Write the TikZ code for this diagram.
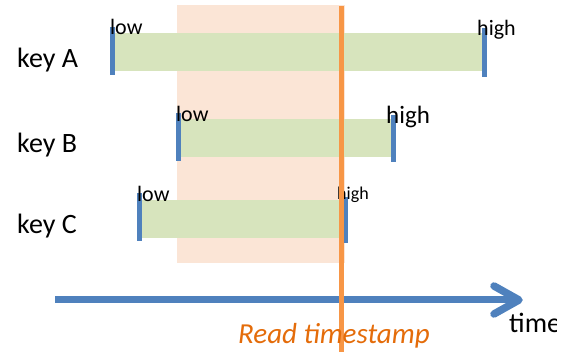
\documentclass[tikz,border=0pt]{standalone}
\usepackage{fontspec}
\setmainfont{Carlito}
\definecolor{peach}{HTML}{FBE5D6}
\definecolor{bargreen}{HTML}{D7E4BD}
\definecolor{tickblue}{HTML}{4F81BD}
\definecolor{lineorange}{HTML}{F79646}
\definecolor{textorange}{HTML}{E46C0A}
\tikzset{
  bar/.style={fill=bargreen, draw=none},
  tick/.style={draw=tickblue, line width=5pt},
  keylabel/.style={anchor=base west, inner sep=0pt, font=\fontsize{28}{30}\selectfont},
  endlabel/.style={anchor=base west, inner sep=0pt, font=\fontsize{22}{24}\selectfont},
}
\begin{document}
\begin{tikzpicture}[x=1pt,y=-1pt]
\useasboundingbox (0,0) rectangle (571,352);
% read window
\fill[peach] (177,5) rectangle (345,263);
% bars
\fill[bar] (113,33) rectangle (484,71);
\fill[bar] (179,119) rectangle (393,157);
\fill[bar] (140,200) rectangle (345,238);
% ticks
\coordinate (a1) at (112.5,27); \coordinate (a2) at (112.5,75);
\coordinate (a3) at (484.5,28); \coordinate (a4) at (484.5,77);
\coordinate (b1) at (178.5,113); \coordinate (b2) at (178.5,161);
\coordinate (b3) at (393,115); \coordinate (b4) at (393,162);
\coordinate (c1) at (139.5,193); \coordinate (c2) at (139.5,241);
\coordinate (c3) at (345.5,197); \coordinate (c4) at (345.5,243);
\draw[tick] (a1) -- (a2);
\draw[tick] (a3) -- (a4);
\draw[tick] (b1) -- (b2);
\draw[tick] (b3) -- (b4);
\draw[tick] (c1) -- (c2);
\draw[tick] (c3) -- (c4);
% labels
\node[keylabel] (kA) at (17,68) {key A};
\node[keylabel] (kB) at (17,153) {key B};
\node[keylabel] (kC) at (17,234) {key C};
\node[endlabel] (lA) at (110,35) {low};
\node[endlabel] (hA) at (477,36) {high};
\node[endlabel] (lB) at (176,122) {low};
\node[endlabel, font=\fontsize{25}{27}\selectfont] (hB) at (386,124) {high};
\node[endlabel] (lC) at (137,202) {low};
\node[endlabel, font=\fontsize{18}{20}\selectfont] (hC) at (337,200) {high};
% time axis
\coordinate (t0) at (55,300);
\coordinate (t1) at (519,300);
\coordinate (tu) at (494,286);
\coordinate (td) at (494,314);
\draw[tickblue, line width=7pt] (t0) -- (t1);
\draw[tickblue, line width=7.5pt, line cap=round, line join=round] (tu) -- (t1) -- (td);
\begin{scope}
\clip (0,0) rectangle (556,352);
\node[keylabel] (time) at (509,333) {time};
\end{scope}
% read timestamp line
\coordinate (r0) at (341.5,6);
\coordinate (r1) at (341.5,352);
\draw[lineorange, line width=4.5pt] (r0) -- (r1);
\node[anchor=base west, inner sep=0pt, text=textorange, font=\fontsize{29}{31}\selectfont\itshape] (rt) at (238,344) {Read timestamp};
\end{tikzpicture}
\end{document}
